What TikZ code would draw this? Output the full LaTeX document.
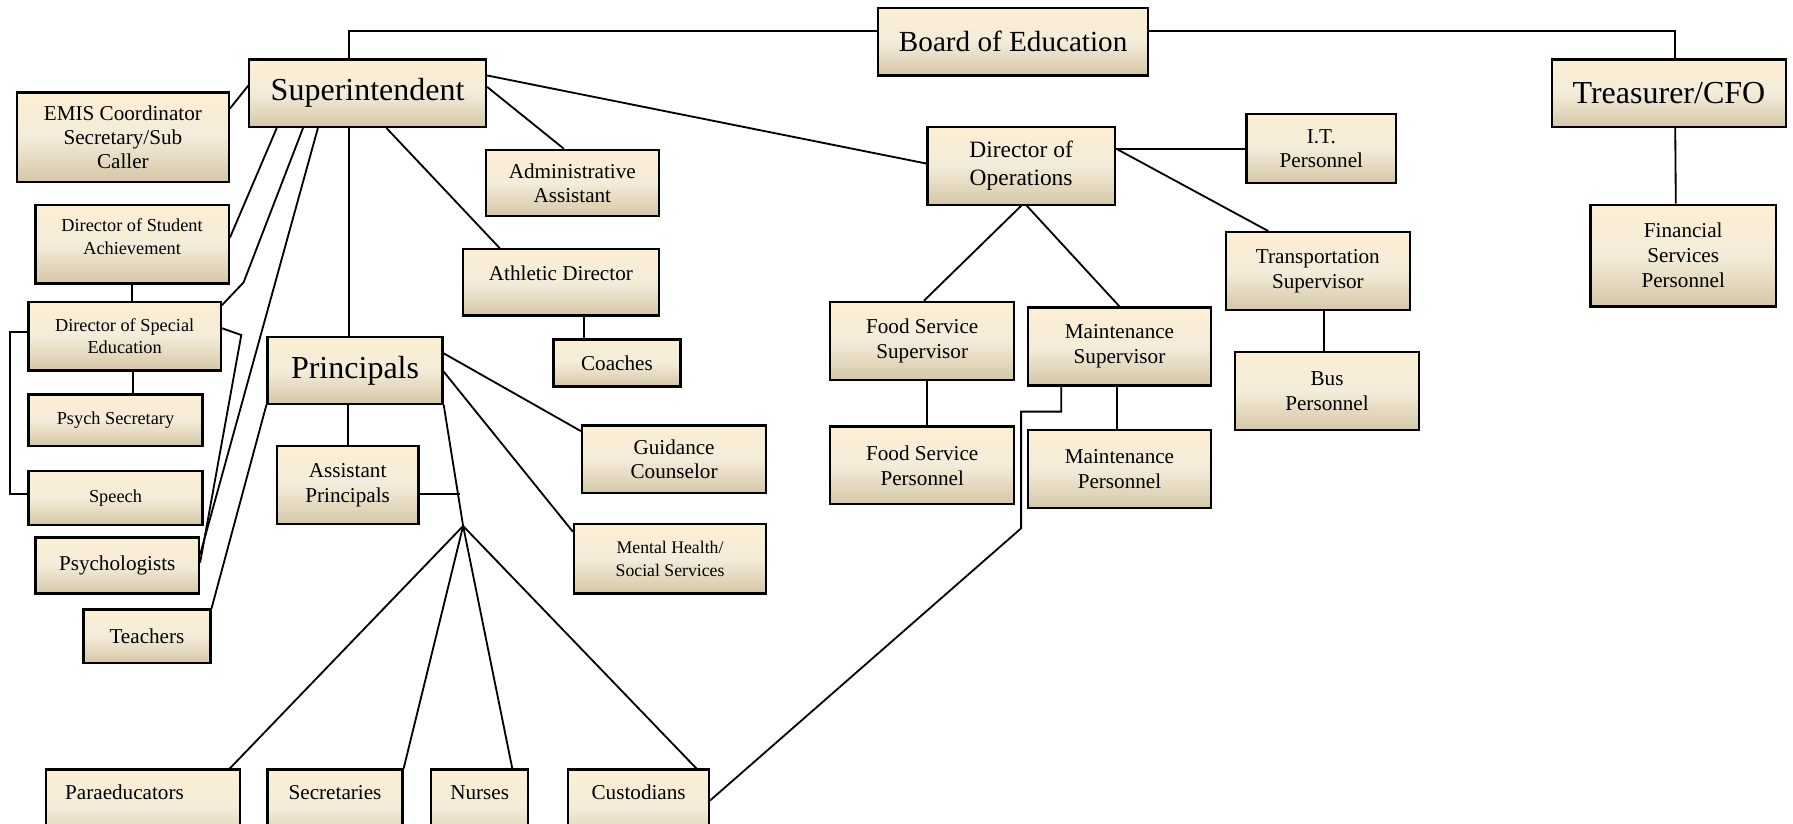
\documentclass[tikz,border=0pt]{standalone}
\usepackage{fontspec}
\setmainfont{Liberation Serif}
\definecolor{creamTop}{HTML}{FCEED2}
\definecolor{creamMid}{HTML}{F4ECDA}
\definecolor{creamBot}{HTML}{D5C7A6}
\tikzstyle{orgChart}=[%
    every path/.style = {%
		black,
		line width=1.6pt
    },%
	unit/.style={%
		draw=black,
		line width=2pt,
		inner sep=0pt,
		align=center,
		top color=creamTop,
		bottom color=creamBot,
		middle color=creamMid,
		font=\fontsize{18.5}{22}\selectfont
	},
	bigUnit/.style={unit, font=\fontsize{28}{32}\selectfont},
	smallUnit/.style={unit, font=\fontsize{16}{19.5}\selectfont},
	boxSize/.style 2 args={minimum width=##1pt, minimum height=##2pt},
	raiseText/.style={text height=13pt, text depth=##1}
]

\begin{document}
\begin{tikzpicture}[
	x=1pt, y=-1pt,
	orgChart
]
	\useasboundingbox (0,0) rectangle (1568,720);

	\node[bigUnit, font=\fontsize{25.5}{30}\selectfont, boxSize={236}{59}] (board) at (886,36.5) {Board of Education};
	\node[bigUnit, boxSize={207}{59}] (supt) at (321.5,81.5) {Superintendent};
	\node[bigUnit, boxSize={205}{59}] (cfo) at (1459.5,81.5) {Treasurer/CFO};
	\node[bigUnit, boxSize={153}{58}] (princ) at (310.5,324) {Principals};

	\node[unit, font=\fontsize{18.5}{21}\selectfont, boxSize={185}{78}] (emis) at (107.5,120) {EMIS Coordinator\\Secretary/Sub\\Caller};
	\node[smallUnit, boxSize={169}{69}] (dsa) at (115.5,213.5) {Director of Student\\Achievement\\[-6.5pt]};
	\node[smallUnit, boxSize={168}{60}] (dse) at (109,294) {Director of Special\\Education};
	\node[smallUnit, boxSize={152}{45}] (psec) at (101,367.5) {Psych Secretary};
	\node[smallUnit, boxSize={152}{47}] (speech) at (101,435.5) {Speech};
	\node[unit, boxSize={143}{49}] (psych) at (102.5,494.5) {Psychologists};
	\node[unit, boxSize={111}{47}] (teach) at (128.5,556.5) {Teachers};

	\node[unit, font=\fontsize{18.5}{21}\selectfont, boxSize={151}{58}] (admin) at (500.5,160) {Administrative\\Assistant};
	\node[unit, boxSize={171}{58}, raiseText=16pt] (athl) at (490.5,247) {Athletic Director};
	\node[unit, boxSize={111}{41}] (coach) at (539.5,317.5) {Coaches};
	\node[unit, boxSize={124}{68}] (apr) at (304,424) {Assistant\\Principals};
	\node[unit, font=\fontsize{18.5}{21}\selectfont, boxSize={161}{59}] (guid) at (589.5,401.5) {Guidance\\Counselor};
	\node[unit, font=\fontsize{15.5}{20}\selectfont, boxSize={168}{61}] (mhs) at (586,488.5) {Mental Health/\\Social Services};

	\node[unit, boxSize={170}{67}, raiseText=27pt, text width=136pt, align=left] (para) at (125,706.5) {Paraeducators};
	\node[unit, boxSize={118}{67}, raiseText=27pt] (sec) at (293,706.5) {Secretaries};
	\node[unit, boxSize={85}{67}, raiseText=27pt] (nurse) at (419.5,706.5) {Nurses};
	\node[unit, boxSize={123}{67}, raiseText=27pt] (cust) at (558.5,706.5) {Custodians};

	\node[unit, font=\fontsize{20.5}{24}\selectfont, boxSize={164}{68}] (dops) at (893,145) {Director of\\Operations};
	\node[unit, font=\fontsize{18.5}{21}\selectfont, boxSize={131}{60}] (it) at (1155.5,130) {I.T.\\Personnel};
	\node[unit, boxSize={161}{68}] (trans) at (1152.5,237) {Transportation\\Supervisor};
	\node[unit, boxSize={161}{68}] (bus) at (1160.5,342) {Bus\\Personnel};
	\node[unit, boxSize={161}{68}] (fss) at (806.5,298) {Food Service\\Supervisor};
	\node[unit, boxSize={160}{68}] (msup) at (979,303) {Maintenance\\Supervisor};
	\node[unit, boxSize={161}{68}] (fsp) at (806.5,407) {Food Service\\Personnel};
	\node[unit, boxSize={160}{68}] (mper) at (979,410) {Maintenance\\Personnel};
	\node[unit, boxSize={162}{89}] (fin) at (1472,223.5) {Financial\\Services\\Personnel};

	\coordinate (bendA) at (213,247);
	\coordinate (bendB) at (211,293);
	\coordinate (junc) at (405,460);
	\coordinate (custBendA) at (893,462);
	\coordinate (custBendB) at (893,360);

	\draw ([yshift=9.5pt]board.west) -| ([xshift=-16.5pt]supt.north);
	\draw ([yshift=9.5pt]board.east) -| ([xshift=5.5pt]cfo.north);
	\draw ([xshift=5.5pt]cfo.south) -- ([xshift=-6.5pt]fin.north);

	\draw ([yshift=15.5pt]supt.east) -- ([yshift=2pt]dops.west);
	\draw ([yshift=5.5pt]supt.east) -- ([xshift=-7.5pt]admin.north);
	\draw ([xshift=16.5pt]supt.south) -- ([xshift=33pt]athl.north west);
	\draw ([xshift=-16.5pt]supt.south) -- ([xshift=-5.5pt]princ.north);
	\draw ([yshift=6.5pt]supt.west) -- ([yshift=25pt]emis.east);
	\draw ([xshift=25pt]supt.south west) -- ([yshift=5.5pt]dsa.east);
	\draw ([xshift=48pt]supt.south west) -- (bendA) -- ([yshift=-4pt]dse.north east);
	\draw ([xshift=61pt]supt.south west) -- ([yshift=9.5pt]psych.east);
	\draw ([yshift=7pt]dse.east) -- (bendB) -- ([yshift=2.5pt]psych.east);

	\draw (dsa.south) -- (dsa.south |- dse.north);
	\draw ([xshift=7pt]dse.south) -- ([xshift=7pt]dse.south |- psec.north);
	\draw ([yshift=4pt]dse.west) -- ++(-15,0) |- ([yshift=3.5pt]speech.west);
	\draw ([xshift=20pt]athl.south) -- ([xshift=20pt]athl.south |- coach.north);

	\draw (princ.south west) -- (teach.north east);
	\draw (apr.north |- princ.south) -- (apr.north);
	\draw ([yshift=15pt]princ.east) -- ([yshift=-6pt]guid.north west);
	\draw ([yshift=-1pt]princ.east) -- ([yshift=-8pt]mhs.north west);
	\draw (princ.south east) -- (junc);
	\draw ([yshift=-8pt]apr.east) -- ++(35,0);
	\foreach \n/\dx in {para/-10, sec/0, nurse/-15, cust/-12} {
		\draw (junc) -- ([xshift=\dx pt]\n.north east);
	}
	\draw ([yshift=6.5pt]cust.east) -- (custBendA) -- (custBendB) -| ([xshift=-51pt]msup.south);

	\draw ([yshift=15pt]dops.east) -- (it.west);
	\draw ([yshift=15pt]dops.east) -- ([xshift=38pt]trans.north west);
	\draw (dops.south) -- ([xshift=1.5pt]fss.north);
	\draw ([xshift=5pt]dops.south) -- (msup.north);
	\draw ([xshift=4.5pt]fss.south) -- ([xshift=4.5pt]fsp.north);
	\draw ([xshift=-2pt]msup.south) -- ([xshift=-2pt]mper.north);
	\draw ([xshift=5.5pt]trans.south) -- ([xshift=5.5pt]trans.south |- bus.north);
\end{tikzpicture}
\end{document}
